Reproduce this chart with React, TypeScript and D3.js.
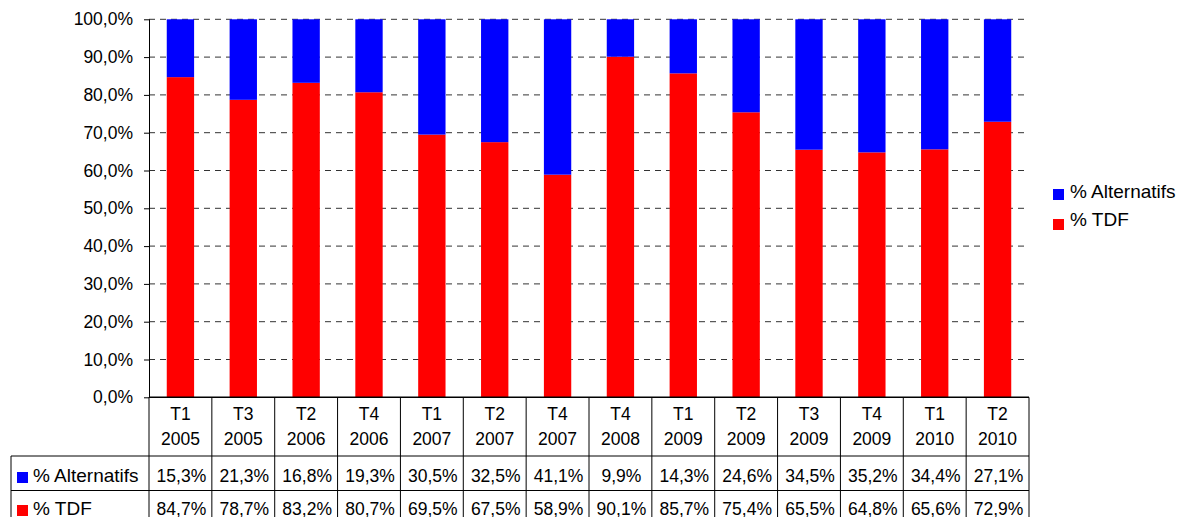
import React, { useEffect, useRef } from "react";
import * as d3 from "d3";

const CATEGORIES = [
  ["T1", "2005"], ["T3", "2005"], ["T2", "2006"], ["T4", "2006"],
  ["T1", "2007"], ["T2", "2007"], ["T4", "2007"], ["T4", "2008"],
  ["T1", "2009"], ["T2", "2009"], ["T3", "2009"], ["T4", "2009"],
  ["T1", "2010"], ["T2", "2010"],
];
const ALTERNATIFS = [15.3, 21.3, 16.8, 19.3, 30.5, 32.5, 41.1, 9.9, 14.3, 24.6, 34.5, 35.2, 34.4, 27.1];
const TDF = [84.7, 78.7, 83.2, 80.7, 69.5, 67.5, 58.9, 90.1, 85.7, 75.4, 65.5, 64.8, 65.6, 72.9];
const Y_TICKS = [0, 10, 20, 30, 40, 50, 60, 70, 80, 90, 100];
const SERIES = [
  { name: "% Alternatifs", values: ALTERNATIFS, color: "#0000ff" },
  { name: "% TDF", values: TDF, color: "#ff0000" },
];

const W = 1185;
const H = 517;
const LEFT = 149;
const RIGHT = 1029;
const TOP = 19.3;
const BOTTOM = 397.3;
const FONT = "Liberation Sans, Arial, sans-serif";
const fmt = (v: number) => v.toFixed(1).replace(".", ",") + "%";

export default function App() {
  const svgRef = useRef<SVGSVGElement | null>(null);

  useEffect(() => {
    document.body.style.margin = "0";
    const svg = d3.select(svgRef.current);
    svg.selectAll("*").remove();

    const labels = CATEGORIES.map((c) => c.join(" "));
    const x = d3.scaleBand().domain(labels).range([LEFT, RIGHT]);
    const y = d3.scaleLinear().domain([0, 100]).range([BOTTOM, TOP]);
    const barW = x.step() * 0.435;

    // gridlines
    svg.append("g")
      .selectAll("line")
      .data(Y_TICKS.slice(1))
      .join("line")
      .attr("x1", LEFT).attr("x2", RIGHT)
      .attr("y1", (d) => y(d)).attr("y2", (d) => y(d))
      .attr("stroke", "#333")
      .attr("stroke-width", 1)
      .attr("stroke-dasharray", "6,5");

    // bars: TDF at bottom, alternatifs on top
    const rows = labels.map((l, i) => ({ l, tdf: TDF[i], alt: ALTERNATIFS[i] }));
    const bars = svg.append("g");
    bars.selectAll("rect.tdf")
      .data(rows)
      .join("rect")
      .attr("class", "tdf")
      .attr("x", (d) => x(d.l)! + (x.step() - barW) / 2)
      .attr("width", barW)
      .attr("y", (d) => y(d.tdf))
      .attr("height", (d) => y(0) - y(d.tdf))
      .attr("fill", "#ff0000");
    bars.selectAll("rect.alt")
      .data(rows)
      .join("rect")
      .attr("class", "alt")
      .attr("x", (d) => x(d.l)! + (x.step() - barW) / 2)
      .attr("width", barW)
      .attr("y", (d) => y(d.tdf + d.alt))
      .attr("height", (d) => y(d.tdf) - y(d.tdf + d.alt))
      .attr("fill", "#0000ff");

    // y axis
    svg.append("g")
      .attr("transform", `translate(${LEFT},0)`)
      .call(d3.axisLeft(y).tickValues(Y_TICKS).tickSize(5).tickPadding(11).tickFormat((d) => fmt(+d)))
      .call((g) => g.select(".domain").attr("stroke", "#000").attr("d", `M0.5,${TOP}V${BOTTOM}`))
      .call((g) => g.selectAll("line").attr("stroke", "#000"))
      .call((g) =>
        g.selectAll("text").attr("font-family", FONT).attr("font-size", 17.5).attr("fill", "#000"),
      );

    // data table
    const rowY = [BOTTOM, 456, 490.5];
    const t = svg.append("g").attr("stroke", "#000").attr("fill", "none");
    t.append("line").attr("x1", LEFT).attr("x2", RIGHT).attr("y1", BOTTOM).attr("y2", BOTTOM).attr("stroke-width", 1.5);
    [rowY[1], rowY[2]].forEach((yy) =>
      t.append("line").attr("x1", 11).attr("x2", RIGHT).attr("y1", yy).attr("y2", yy),
    );
    t.append("line").attr("x1", 11).attr("x2", 11).attr("y1", rowY[1]).attr("y2", H);
    d3.range(CATEGORIES.length + 1).forEach((i) => {
      const xx = LEFT + i * x.step();
      t.append("line").attr("x1", xx).attr("x2", xx).attr("y1", BOTTOM).attr("y2", H);
    });

    const txt = svg.append("g").attr("font-family", FONT).attr("font-size", 17.5).attr("fill", "#000");
    labels.forEach((l, i) => {
      const cx = x(l)! + x.step() / 2;
      txt.append("text").attr("x", cx).attr("y", 420).attr("text-anchor", "middle").text(CATEGORIES[i][0]);
      txt.append("text").attr("x", cx).attr("y", 445).attr("text-anchor", "middle").text(CATEGORIES[i][1]);
    });
    const valY = [482, 515];
    SERIES.forEach((s, r) => {
      s.values.forEach((v, i) => {
        txt.append("text")
          .attr("x", x(labels[i])! + x.step() / 2 + 1)
          .attr("y", valY[r])
          .attr("text-anchor", "middle")
          .text(fmt(v));
      });
      svg.append("rect").attr("x", 17).attr("y", valY[r] - 10).attr("width", 11).attr("height", 11).attr("fill", s.color);
      txt.append("text").attr("x", 33).attr("y", valY[r]).attr("font-size", 19).text(s.name);
    });

    // legend
    const leg = svg.append("g").attr("transform", "translate(1053,189)");
    SERIES.forEach((s, i) => {
      leg.append("rect").attr("x", 0).attr("y", i * 30).attr("width", 11).attr("height", 11).attr("fill", s.color);
      leg.append("text")
        .attr("x", 17).attr("y", i * 28 + 9)
        .attr("font-family", FONT).attr("font-size", 19)
        .text(s.name);
    });
  }, []);

  return <svg ref={svgRef} width={W} height={H} style={{ display: "block", background: "#fff" }} />;
}
